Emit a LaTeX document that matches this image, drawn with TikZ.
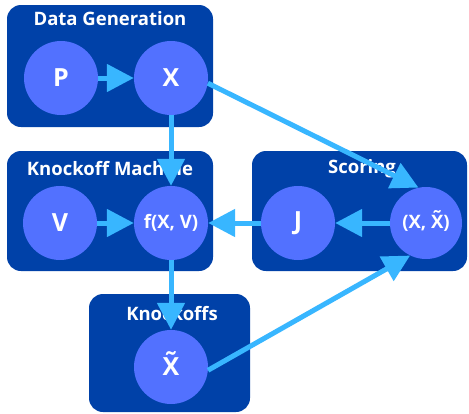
\documentclass[tikz,border=0pt]{standalone}
\usepackage{fontspec}
\setmainfont{Open Sans}
\usetikzlibrary{arrows.meta}
\definecolor{panel}{HTML}{0041A8}
\definecolor{bubble}{HTML}{5271FF}
\definecolor{flow}{HTML}{38B6FF}
% X with a tilde placed above it
\newcommand{\Xtil}{\ooalign{X\cr\hidewidth\raisebox{0.2em}{˜}\hidewidth\cr}}
\tikzset{
  panelbox/.style={fill=panel, draw=none, rounded corners=14pt},
  paneltitle/.style={text=white, font=\bfseries\fontsize{18.5}{20}\selectfont, inner sep=0pt},
  var/.style={circle, fill=bubble, minimum size=74pt, inner sep=0pt, text=white,
    font=\bfseries\fontsize{25}{28}\selectfont},
  smallvar/.style={var, font=\bfseries\fontsize{18.5}{20}\selectfont},
  link/.style={draw=flow, line width=5pt, -{Triangle[length=27pt,width=27pt]}}
}
\begin{document}
\begin{tikzpicture}[x=1pt, y=-1pt]
  \useasboundingbox (0,0) rectangle (469,413);
  \fill[white] (0,0) rectangle (469,413);

  % group panels
  \path[panelbox] (7,5) rectangle (213,127);
  \path[panelbox] (7,151) rectangle (213,271);
  \path[panelbox] (252,151) rectangle (467,271);
  \path[panelbox] (89,294) rectangle (250,412);

  % panel titles
  \node[paneltitle] (tgen) at (110,19) {Data Generation};
  \node[paneltitle] (tkm)  at (110,169) {Knockoff Machine};
  \node[paneltitle] (tsc)  at (362,169) {Scoring};
  \node[paneltitle] (tko)  at (172,314) {Knockoffs};

  % variables
  \node[var] (P)   at (61,78)   {P};
  \node[var] (X)   at (171,78)  {X};
  \node[var] (V)   at (60,223)  {V};
  \node[smallvar] (f) at (171,223) {f(X, V)};
  \node[var] (J)   at (298,223) {J};
  \node[smallvar, minimum size=72pt] (XXt) at (426,223) {(X, \Xtil)};
  \node[var] (Xt)  at (171,367) {\Xtil};

  % data flow
  \draw[link] (P) -- (X);
  \draw[link] (X) -- (f);
  \draw[link] (X.-8) -- (XXt.102);
  \draw[link] (V) -- (f);
  \draw[link] (J) -- (f);
  \draw[link] (XXt) -- (J);
  \draw[link] (f) -- (Xt);
  \draw[link] (Xt.-5) -- (XXt.244);
\end{tikzpicture}
\end{document}
